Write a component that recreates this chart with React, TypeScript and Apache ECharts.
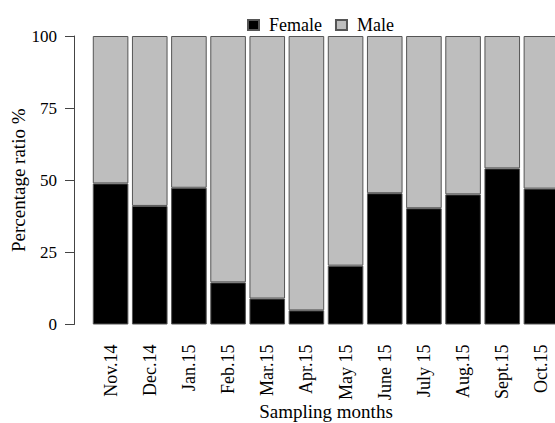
import React, { useEffect, useRef } from "react";
import * as echarts from "echarts";

const months = ["Nov.14", "Dec.14", "Jan.15", "Feb.15", "Mar.15", "Apr.15", "May 15", "June 15", "July 15", "Aug.15", "Sept.15", "Oct.15"];
const female = [48.9, 41.1, 47.4, 14.6, 9.0, 4.9, 20.4, 45.5, 40.3, 45.1, 54.1, 47.1];
const male = [51.1, 58.9, 52.6, 85.4, 91.0, 95.1, 79.6, 54.5, 59.7, 54.9, 45.9, 52.9];
const yTicks = { min: 0, max: 100, interval: 25 };

const FONT = "'Liberation Serif', 'Times New Roman', Times, serif";

export default function App() {
  const ref = useRef<HTMLDivElement>(null);
  useEffect(() => {
    if (!ref.current) return;
    const chart = echarts.init(ref.current, null, { renderer: "svg" });
    chart.setOption({
      animation: false,
      backgroundColor: "#ffffff",
      textStyle: { fontFamily: FONT },
      legend: {
        left: 242,
        top: 11,
        icon: "rect",
        itemWidth: 11,
        itemHeight: 10,
        itemGap: 13,
        textStyle: { fontFamily: FONT, fontSize: 18, color: "#000", padding: [0, 0, 0, 5] },
        data: ["Female", "Male"],
      },
      grid: { left: 91, top: 36, width: 470, height: 288.5, containLabel: false, outerBoundsMode: "none" },
      xAxis: {
        type: "category",
        data: months,
        axisLine: { show: false },
        axisTick: { show: false },
        axisLabel: { rotate: 90, margin: 20, fontSize: 18, fontFamily: FONT, color: "#000", interval: 0 },
        name: "Sampling months",
        nameLocation: "middle",
        nameGap: 77,
        nameMoveOverlap: false,
        nameTextStyle: { fontSize: 19, fontFamily: FONT, color: "#000" },
      },
      yAxis: {
        type: "value",
        min: yTicks.min,
        max: yTicks.max,
        interval: yTicks.interval,
        offset: 17,
        axisLine: { show: true, lineStyle: { color: "#444", width: 1 } },
        axisTick: { show: true, length: 9, lineStyle: { color: "#444", width: 1 } },
        axisLabel: { margin: 17, fontSize: 17, fontFamily: FONT, color: "#000" },
        splitLine: { show: false },
        name: "Percentage ratio %",
        nameLocation: "middle",
        nameRotate: 90,
        nameGap: 46,
        nameMoveOverlap: false,
        nameTextStyle: { fontSize: 19, fontFamily: FONT, color: "#000" },
      },
      series: [
        {
          name: "Female",
          type: "bar",
          stack: "total",
          data: female,
          barWidth: 35.6,
          itemStyle: { color: "#000000", borderColor: "#555", borderWidth: 1 },
        },
        {
          name: "Male",
          type: "bar",
          stack: "total",
          data: male,
          barWidth: 35.6,
          itemStyle: { color: "#bebebe", borderColor: "#555", borderWidth: 1 },
        },
      ],
    });
    return () => chart.dispose();
  }, []);
  return <div ref={ref} style={{ position: "fixed", left: 0, top: 0, width: 555, height: 423 }} />;
}
